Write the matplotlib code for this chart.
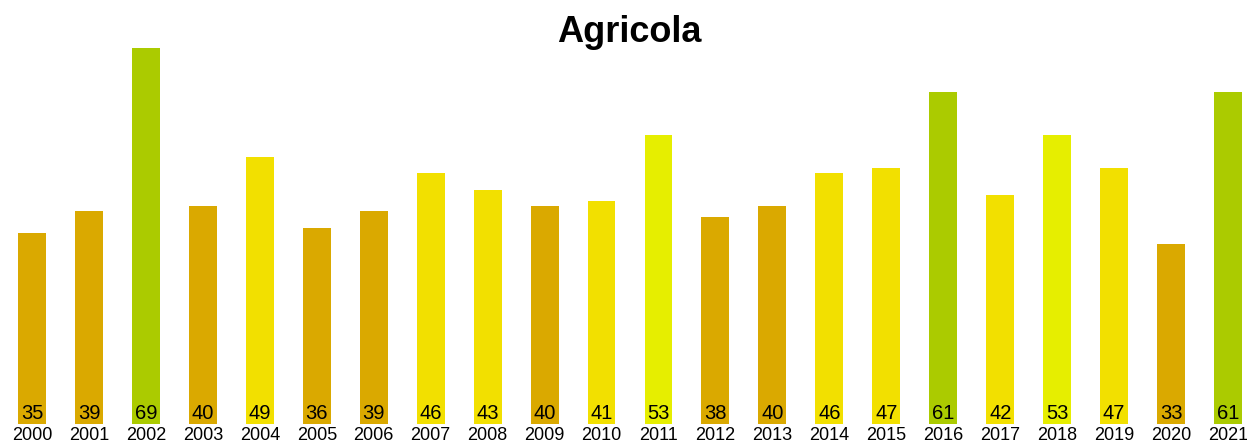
import matplotlib
matplotlib.use('Agg')
import matplotlib.pyplot as plt

plt.rcParams['font.family'] = ['Liberation Sans', 'DejaVu Sans']

years = [str(y) for y in range(2000, 2022)]
values = [35, 39, 69, 40, 49, 36, 39, 46, 43, 40, 41, 53, 38, 40, 46, 47, 61, 42, 53, 47, 33, 61]


def bar_color(v):
    if v <= 40:
        return '#DAA900'
    if v < 50:
        return '#F2E000'
    if v < 60:
        return '#E6EE00'
    return '#ABCB00'


colors = [bar_color(v) for v in values]

fig = plt.figure(figsize=(12.47, 4.45), dpi=100)
ax = fig.add_axes([0, 21 / 445, 1, (424 - 48) / 445])

x = range(len(values))
ax.bar(x, values, width=0.49, color=colors)
for i, v in enumerate(values):
    ax.text(i, 2.0, str(v), ha='center', va='center', fontsize=14.5, color='black')

ax.set_xlim(-32 / 56.95, 21 + 19 / 56.95)
ax.set_ylim(0, 69)
ax.set_xticks(list(x))
ax.set_xticklabels(years, fontsize=13)
ax.tick_params(axis='x', length=0, pad=2)
ax.set_yticks([])
for s in ax.spines.values():
    s.set_visible(False)

fig.text(629 / 1247, 1 - 32 / 445, 'Agricola', ha='center', va='center', fontsize=26, fontweight='bold')

plt.savefig('out.png', dpi=100)
